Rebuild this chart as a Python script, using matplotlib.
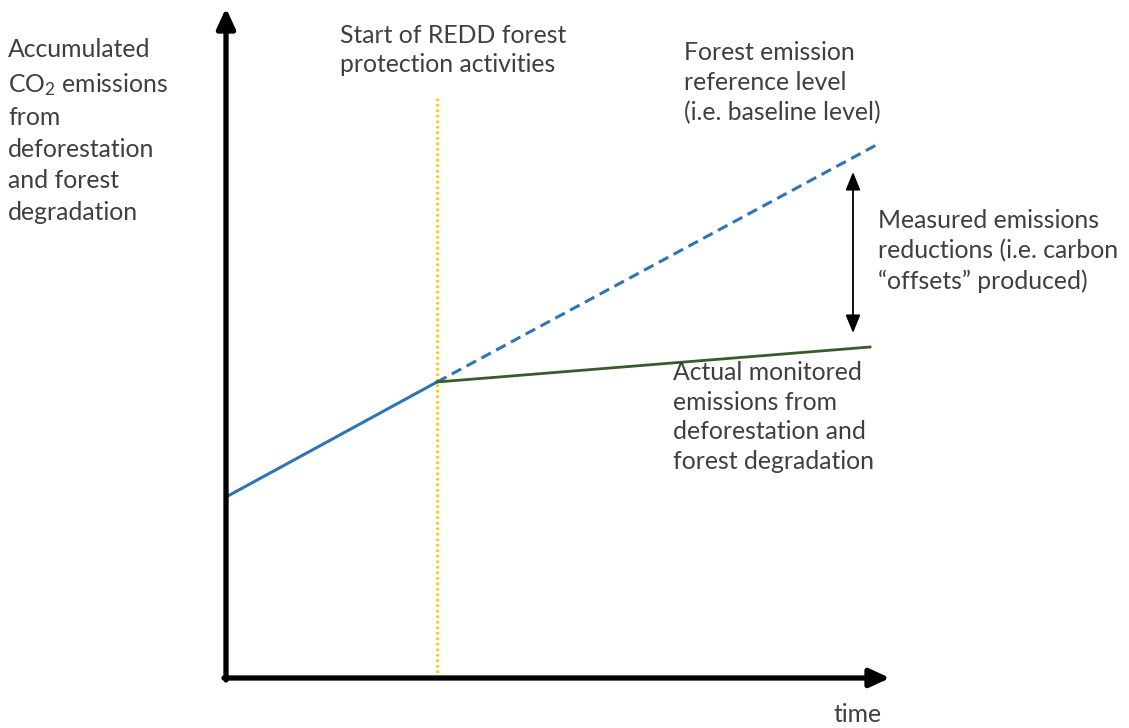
import matplotlib
matplotlib.use("Agg")
import matplotlib.pyplot as plt

plt.rcParams['font.family'] = ['Lato', 'DejaVu Sans']
plt.rcParams['mathtext.fontset'] = 'custom'
plt.rcParams['mathtext.rm'] = 'Lato'
plt.rcParams['mathtext.it'] = 'Lato:italic'

# conceptual data (time, accumulated emissions)
hist_time = [0.0, 2.11]
hist_emis = [1.81, 2.96]
base_time = [2.11, 6.54]
base_emis = [2.96, 5.35]
actual_time = [2.11, 6.44]
actual_emis = [2.96, 3.31]
redd_start = 2.11
redd_top = 5.81
gap_x = 6.27
gap_top = 5.06
gap_bottom = 3.45

text_col = '#3f3f3f'

fig = plt.figure(figsize=(11.29, 7.28), dpi=100)
ax = fig.add_axes([0, 0, 1, 1])
ax.set_xlim(-2.26, 9.03)
ax.set_ylim(-0.50, 6.78)
ax.axis('off')

# axes arrows
ax.annotate('', xy=(6.64, 0), xytext=(-0.02, 0),
            arrowprops=dict(arrowstyle='-|>,head_length=1.2,head_width=0.55', lw=3.8, color='black',
                            shrinkA=0, shrinkB=0))
ax.annotate('', xy=(0, 6.70), xytext=(0, -0.02),
            arrowprops=dict(arrowstyle='-|>,head_length=1.2,head_width=0.55', lw=3.8, color='black',
                            shrinkA=0, shrinkB=0))

# start of REDD
ax.plot([redd_start, redd_start], [0, redd_top], color='#ffc000', lw=1.8, ls=(0, (1, 1.2)))

ax.plot(hist_time, hist_emis, color='#2e75b6', lw=2.2, solid_capstyle='butt')
ax.plot(base_time, base_emis, color='#2e75b6', lw=2.2, ls=(0, (3.5, 2)))
ax.plot(actual_time, actual_emis, color='#3b5a2b', lw=2.0)

ax.annotate('', xy=(gap_x, gap_top), xytext=(gap_x, gap_bottom),
            arrowprops=dict(arrowstyle='<|-|>,head_length=1.1,head_width=0.45', lw=1.3, color='black',
                            shrinkA=0, shrinkB=0))

fs = 17.8
ls = 1.36
ax.text(-2.18, 5.47, 'Accumulated\nCO$_2$ emissions\nfrom\ndeforestation\nand forest\ndegradation',
        fontsize=fs, color=text_col, va='center', ha='left', linespacing=1.45)
ax.text(1.14, 6.28, 'Start of REDD forest\nprotection activities', fontsize=fs, color=text_col,
        va='center', ha='left', linespacing=ls)
ax.text(4.58, 5.95, 'Forest emission\nreference level\n(i.e. baseline level)', fontsize=fs,
        color=text_col, va='center', ha='left', linespacing=ls)
ax.text(6.52, 4.27, 'Measured emissions\nreductions (i.e. carbon\n\u201coffsets\u201d produced)', fontsize=fs,
        color=text_col, va='center', ha='left', linespacing=ls)
ax.text(4.47, 2.61, 'Actual monitored\nemissions from\ndeforestation and\nforest degradation', fontsize=fs,
        color=text_col, va='center', ha='left', linespacing=ls)
ax.text(6.07, -0.37, 'time', fontsize=fs, color=text_col, va='center', ha='left')

fig.savefig('out.png', dpi=100)
